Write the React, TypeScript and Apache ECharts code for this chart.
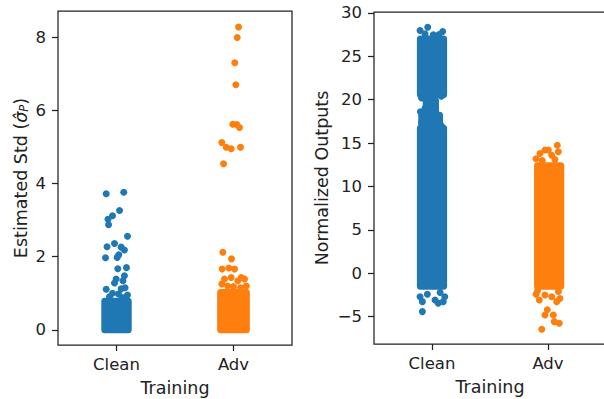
import React, { useEffect, useRef } from "react";
import * as echarts from "echarts";

const categories = ["Clean", "Adv"];
const palette = ["#1f77b4", "#ff7f0e"];

// Left panel: estimated std. Scattered points as [jitter, value]
const stdCleanPoints: [number, number][] = [
  [-0.088, 3.72], [0.062, 3.76], [0.026, 3.26], [-0.034, 3.12], [-0.073, 3.02],
  [-0.068, 2.87], [0.094, 2.56], [-0.017, 2.36], [-0.081, 2.27], [0.04, 2.26],
  [0.068, 2.18], [0.02, 2.05], [-0.094, 1.97], [0.006, 1.98], [0.085, 1.7],
  [0.011, 1.67], [0.068, 1.48], [-0.003, 1.39], [0.055, 1.34], [-0.017, 1.28],
  [-0.088, 1.11], [0.04, 1.12], [0.073, 1.15], [-0.034, 1.0], [0.017, 0.98],
  [0.094, 0.95], [-0.06, 0.9], [0.05, 0.88],
];
const stdAdvPoints: [number, number][] = [
  [0.043, 8.28], [0.032, 7.99], [0.011, 7.3], [0.02, 6.7], [-0.006, 5.62],
  [0.028, 5.61], [0.051, 5.53], [-0.1, 5.12], [-0.062, 4.99], [-0.02, 4.95],
  [0.06, 4.99], [-0.085, 4.54], [-0.091, 2.12], [-0.017, 1.94], [-0.097, 1.66],
  [-0.04, 1.69], [0.009, 1.66], [0.066, 1.43], [-0.077, 1.39], [-0.02, 1.43],
  [0.037, 1.34], [0.094, 1.39], [-0.1, 1.25], [-0.05, 1.2], [0.11, 1.2],
  [0.0, 1.18], [0.06, 1.15],
];
// Dense cores: [category, low, high, leftJitter, rightJitter]
const stdDense: [number, number, number, number, number][] = [
  [0, 0.0, 0.78, -0.1, 0.1],
  [1, 0.0, 1.02, -0.11, 0.11],
];

// Right panel: normalized outputs
const outCleanPoints: [number, number][] = [
  [-0.037, 28.35], [-0.103, 27.97], [0.092, 27.85], [0.011, 27.47], [-0.06, 27.6],
  [0.06, 27.5], [-0.1, 18.6], [0.055, 17.6], [-0.015, 19.5], [-0.06, 19.0],
  [0.03, 18.9], [-0.09, 17.4], [0.08, 17.0], [-0.04, 18.0], [0.02, 20.3],
  [-0.09, 20.2], [0.08, 20.4], [-0.083, -3.26], [0.054, -3.45], [0.097, -3.26],
  [0.026, -3.07], [-0.103, -2.69], [0.11, -2.69], [-0.04, -2.4], [0.07, -2.2],
  [-0.083, -4.41],
];
const outAdvPoints: [number, number][] = [
  [-0.069, 13.8], [-0.026, 14.2], [0.003, 14.2], [0.08, 14.75], [0.089, 14.0],
  [-0.103, 13.2], [0.032, 13.6], [-0.05, 13.0], [0.06, 13.1],
  [-0.103, -2.4], [-0.026, -2.5], [0.032, -2.7], [0.103, -2.9], [0.075, -3.26],
  [-0.075, -3.07], [-0.006, -4.2], [-0.026, -4.8], [0.046, -4.8], [0.054, -5.56],
  [0.097, -5.75], [-0.054, -6.44], [-0.09, -2.0], [0.09, -2.1],
];
const outDense: [number, number, number, number, number][] = [
  [0, 20.6, 27.0, -0.1, 0.1],
  [0, 18.2, 19.9, -0.05, 0.03],
  [0, 16.85, 18.2, -0.088, 0.065],
  [0, -1.5, 16.7, -0.1, 0.1],
  [1, -1.5, 12.4, -0.09, 0.11],
];

const stdTicks = [0, 2, 4, 6, 8];
const outTicks = [-5, 0, 5, 10, 15, 20, 25, 30];

const FONT = "DejaVu Sans";
const INK = "#222";
const R = 3.5;

function denseSeries(data: number[][], xi: number) {
  return {
    type: "custom",
    xAxisIndex: xi,
    yAxisIndex: xi,
    data,
    encode: { x: 0, y: 1 },
    clip: true,
    renderItem: (params: any, api: any) => {
      const cat = api.value(0);
      const lo = api.value(1);
      const hi = api.value(2);
      const l = api.value(3);
      const r = api.value(4);
      const p1 = api.coord([cat + l, hi]);
      const p2 = api.coord([cat + r, lo]);
      return {
        type: "rect",
        shape: {
          x: p1[0] - R,
          y: p1[1] - R,
          width: p2[0] - p1[0] + 2 * R,
          height: p2[1] - p1[1] + 2 * R,
          r: R,
        },
        style: { fill: palette[cat] },
      };
    },
  };
}

function pointSeries(points: [number, number][], cat: number, xi: number) {
  return {
    type: "scatter",
    xAxisIndex: xi,
    yAxisIndex: xi,
    symbolSize: 7,
    itemStyle: { color: palette[cat], opacity: 1 },
    data: points.map(([j, v]) => [cat + j, v]),
  };
}

function xAxis(gi: number) {
  return {
    type: "value",
    gridIndex: gi,
    min: -0.5,
    max: 1.5,
    name: "Training",
    nameLocation: "middle",
    nameGap: 34,
    nameTextStyle: { fontFamily: FONT, fontSize: 17.5, color: INK },
    axisLine: { show: false, onZero: false },
    splitLine: { show: false },
    axisTick: {
      show: true,
      customValues: [0, 1],
      length: 6,
      lineStyle: { color: INK, width: 1.25 },
    },
    axisLabel: {
      customValues: [0, 1],
      formatter: (v: number) => categories[Math.round(v)] ?? "",
      fontFamily: FONT,
      fontSize: 16.5,
      color: INK,
      margin: 11,
    },
  };
}

function yAxis(gi: number, min: number, max: number, ticks: number[], name: string, gap: number, rich?: any) {
  return {
    type: "value",
    gridIndex: gi,
    min,
    max,
    name,
    nameLocation: "middle",
    nameGap: gap,
    nameRotate: 90,
    nameTextStyle: { fontFamily: FONT, fontSize: 17.5, color: INK, rich },
    axisLine: { show: false, onZero: false },
    splitLine: { show: false },
    axisTick: {
      show: true,
      customValues: ticks,
      length: 6,
      lineStyle: { color: INK, width: 1.25 },
    },
    axisLabel: {
      customValues: ticks,
      formatter: (v: number) => (v < 0 ? "\u2212" + Math.abs(v) : String(v)),
      fontFamily: FONT,
      fontSize: 16.5,
      color: INK,
      margin: 12,
    },
  };
}

export default function App() {
  const ref = useRef<HTMLDivElement>(null);
  useEffect(() => {
    if (!ref.current) return;
    const chart = echarts.init(ref.current, undefined, { renderer: "svg" });
    const richStd = {
      n: { fontFamily: FONT, fontSize: 17.5, color: INK },
      s: { fontFamily: FONT, fontSize: 17.5, fontStyle: "italic", color: INK },
      p: { fontFamily: FONT, fontSize: 11.5, fontStyle: "italic", color: INK, verticalAlign: "bottom", padding: [6, 0, 0, 0] },
    };
    chart.setOption({
      animation: false,
      backgroundColor: "#fff",
      grid: [
        { left: 58, top: 11, width: 234, height: 334, show: true, borderColor: INK, borderWidth: 1.25, backgroundColor: "transparent", containLabel: false, outerBoundsMode: "none" },
        { left: 374, top: 12, width: 232, height: 332, show: true, borderColor: INK, borderWidth: 1.25, backgroundColor: "transparent", containLabel: false, outerBoundsMode: "none" },
      ],
      xAxis: [xAxis(0), xAxis(1)],
      yAxis: [
        yAxis(0, -0.415, 8.715, stdTicks, "{n|Estimated Std (}{s|\u03c3\u0302}{p|P}{n|)}", 28, richStd),
        yAxis(1, -8.14, 30.1, outTicks, "Normalized Outputs", 43),
      ],
      series: [
        denseSeries(stdDense, 0),
        pointSeries(stdCleanPoints, 0, 0),
        pointSeries(stdAdvPoints, 1, 0),
        denseSeries(outDense, 1),
        pointSeries(outCleanPoints, 0, 1),
        pointSeries(outAdvPoints, 1, 1),
      ],
    });
    return () => chart.dispose();
  }, []);
  return (
    <div
      ref={ref}
      style={{ position: "fixed", left: 0, top: 0, width: 604, height: 399 }}
    />
  );
}
